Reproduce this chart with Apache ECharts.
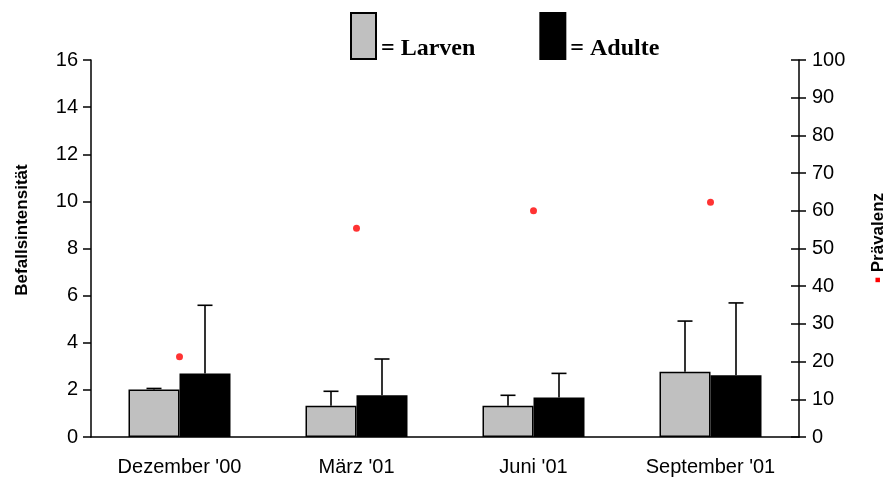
<!DOCTYPE html>
<html>
<head>
<meta charset="utf-8">
<script src="https://cdn.jsdelivr.net/npm/echarts@6/dist/echarts.min.js"></script>
<style>html,body{margin:0;padding:0;background:#fff;}#c{width:891px;height:484px;}</style>
</head>
<body>
<div id="c"></div>
<script>
var categories = ["Dezember '00", "März '01", "Juni '01", "September '01"];
var larven = [2.02, 1.33, 1.33, 2.77];
var larvenErr = [0.04, 0.61, 0.44, 2.15];
var adulte = [2.70, 1.77, 1.68, 2.62];
var adulteErr = [2.89, 1.54, 1.02, 3.07];
var praevalenz = [21.3, 55.4, 60.0, 62.3];
var leftTicks = [0, 16, 2];
var rightTicks = [0, 100, 10];

var chart = echarts.init(document.getElementById('c'), null, {renderer: 'canvas'});
var BAR_W = 51;

function errSeries(values, errs, side, name) {
  return {
    type: 'custom',
    name: name + 'Err',
    yAxisIndex: 0,
    z: 1,
    silent: true,
    data: values.map(function (v, i) { return [i, v, v + errs[i]]; }),
    renderItem: function (params, api) {
      var base = api.coord([api.value(0), api.value(1)]);
      var top = api.coord([api.value(0), api.value(2)]);
      var x = base[0] + side * BAR_W / 2;
      var cap = 7.5;
      return {
        type: 'group',
        children: [
          {type: 'line', shape: {x1: x, y1: base[1], x2: x, y2: top[1]}, style: {stroke: '#000', lineWidth: 1.6}},
          {type: 'line', shape: {x1: x - cap, y1: top[1], x2: x + cap, y2: top[1]}, style: {stroke: '#000', lineWidth: 1.6}}
        ]
      };
    }
  };
}

var axisLineStyle = {color: '#000', width: 1.5};
var labelFont = {color: '#000', fontFamily: 'Liberation Sans, Arial', fontSize: 20};

chart.setOption({
  animation: false,
  backgroundColor: '#fff',
  grid: {left: 91, right: 92, top: 60, bottom: 47},
  legend: {
    left: 345, top: 7,
    data: ['Larven', 'Adulte'],
    formatter: '{t|= {name}}',
    icon: 'rect',
    itemWidth: 25, itemHeight: 46,
    itemGap: 64,
    selectedMode: false,
    textStyle: {
      fontFamily: 'Liberation Serif, Times New Roman', fontWeight: 'bold', fontSize: 24, color: '#000',
      rich: {t: {fontFamily: 'Liberation Serif, Times New Roman', fontWeight: 'bold', fontSize: 24, color: '#000', padding: [26, 0, 0, 0]}}
    }
  },
  xAxis: {
    type: 'category',
    data: categories,
    axisLine: {lineStyle: axisLineStyle},
    axisTick: {length: 7, lineStyle: axisLineStyle},
    axisLabel: Object.assign({margin: 20}, labelFont),
    splitLine: {show: false}
  },
  yAxis: [
    {
      type: 'value', min: leftTicks[0], max: leftTicks[1], interval: leftTicks[2],
      position: 'left',
      axisLine: {show: true, lineStyle: axisLineStyle},
      axisTick: {show: true, length: 8, lineStyle: axisLineStyle},
      axisLabel: Object.assign({margin: 13}, labelFont),
      splitLine: {show: false}
    },
    {
      type: 'value', min: rightTicks[0], max: rightTicks[1], interval: rightTicks[2],
      position: 'right',
      axisLine: {show: true, lineStyle: axisLineStyle},
      axisTick: {show: true, length: 7, lineStyle: axisLineStyle},
      axisLabel: Object.assign({margin: 13}, labelFont),
      splitLine: {show: false}
    },
    {
      type: 'value', min: rightTicks[0], max: rightTicks[1], interval: rightTicks[2],
      position: 'right',
      axisLine: {show: false},
      axisTick: {show: true, inside: true, length: 8, lineStyle: axisLineStyle},
      axisLabel: {show: false},
      splitLine: {show: false}
    }
  ],
  series: [
    {
      name: 'Larven', type: 'bar', data: larven, barWidth: BAR_W, barGap: '0%', z: 2,
      itemStyle: {color: '#c0c0c0', borderColor: '#000', borderWidth: 1.5}
    },
    {
      name: 'Adulte', type: 'bar', data: adulte, barWidth: BAR_W, barGap: '0%', z: 2,
      itemStyle: {color: '#000', borderColor: '#000', borderWidth: 1.5}
    },
    errSeries(larven, larvenErr, -1, 'Larven'),
    errSeries(adulte, adulteErr, 1, 'Adulte'),
    {
      name: 'Prävalenz', type: 'scatter', yAxisIndex: 1, data: praevalenz,
      symbol: 'circle', symbolSize: 7, z: 5,
      itemStyle: {color: '#ff0000'}
    }
  ],
  graphic: [
    {
      type: 'text', x: 22, y: 230, rotation: Math.PI / 2,
      style: {text: 'Befallsintensität', fontFamily: 'Liberation Sans, Arial', fontWeight: 'bold', fontSize: 17, fill: '#000', align: 'center', verticalAlign: 'middle'}
    },
    {
      type: 'text', x: 878, y: 238, rotation: Math.PI / 2,
      style: {
        text: '{d|▪} Prävalenz',
        fontFamily: 'Liberation Sans, Arial', fontWeight: 'bold', fontSize: 17, fill: '#000', align: 'center', verticalAlign: 'middle',
        rich: {d: {fill: '#ff0000', fontSize: 9, fontFamily: 'DejaVu Sans'}}
      }
    }
  ]
});
</script>
</body>
</html>
